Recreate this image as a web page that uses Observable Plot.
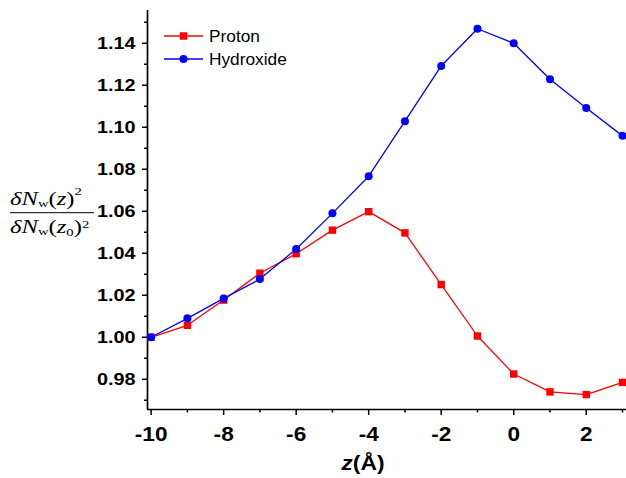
<!DOCTYPE html>
<html><head><meta charset="utf-8">
<script src="https://cdn.jsdelivr.net/npm/d3@7"></script>
<script src="https://cdn.jsdelivr.net/npm/@observablehq/plot@0.6"></script>
<style>body{margin:0;background:#fff} svg{display:block}</style>
</head><body><div id="chart"></div>
<script>
const z = [-10,-9,-8,-7,-6,-5,-4,-3,-2,-1,0,1,2,3];
const proton = [1.000,1.0057,1.0177,1.0305,1.0398,1.0510,1.0598,1.0497,1.0251,1.0006,0.9825,0.9740,0.9727,0.9785];
const hydroxide = [1.000,1.0090,1.0185,1.0277,1.0420,1.0590,1.0767,1.1029,1.1292,1.1469,1.1400,1.1229,1.1092,1.0959];
const seriesNames = ["Proton","Hydroxide"];
const seriesColors = ["#ff0000","#0000ff"];
const seriesSymbols = ["square","circle"];
const xMajor = [-10,-8,-6,-4,-2,0,2];
const xMinor = [-9,-7,-5,-3,-1,1,3];
const yMajor = [0.98,1.00,1.02,1.04,1.06,1.08,1.10,1.12,1.14];
const yMinor = [0.97,0.99,1.01,1.03,1.05,1.07,1.09,1.11,1.13,1.15];
const xDomain = [-10.1, 3.11];
const yDomain = [0.9656, 1.1556];

const data = [];
[proton, hydroxide].forEach((vals, s) => vals.forEach((v, i) => data.push({series: seriesNames[s], z: z[i], v})));

const colorOf = Object.fromEntries(seriesNames.map((n,i)=>[n, seriesColors[i]]));

const plot = Plot.plot({
  width: 626, height: 478,
  marginLeft: 147, marginRight: 0, marginTop: 10, marginBottom: 69,
  style: {background: "#fff", color: "#000", overflow: "visible"},
  x: {domain: xDomain},
  y: {domain: yDomain},
  marks: [
    Plot.axisY(yMajor, {tickSize: 5, tickPadding: 7, strokeWidth: 1.5, tickFormat: d => d.toFixed(2), fontSize: 16.5, fontWeight: "bold", fontFamily: "Liberation Sans, Arial, sans-serif", label: null}),
    Plot.axisY(yMinor, {tickSize: 3, strokeWidth: 1.5, tickFormat: () => "", label: null}),
    Plot.axisX(xMajor, {tickSize: 6, tickPadding: 11, strokeWidth: 1.5, tickFormat: d => String(d), fontSize: 20, fontWeight: "bold", fontFamily: "Liberation Sans, Arial, sans-serif", label: null}),
    Plot.axisX(xMinor, {tickSize: 3.5, strokeWidth: 1.5, tickFormat: () => "", label: null}),
    Plot.ruleX([xDomain[0]], {stroke: "#000", strokeWidth: 1.7}),
    Plot.ruleY([yDomain[0]], {stroke: "#000", strokeWidth: 1.7}),
    Plot.line(data, {x: "z", y: "v", z: "series", stroke: d => colorOf[d.series], strokeWidth: 1.3}),
    Plot.dot(data.filter(d => d.series === "Proton"), {x: "z", y: "v", symbol: "square", r: 4.2, fill: seriesColors[0], stroke: "none"}),
    Plot.dot(data.filter(d => d.series === "Hydroxide"), {x: "z", y: "v", symbol: "circle", r: 4, fill: seriesColors[1], stroke: "none"})
  ]
});
document.getElementById("chart").appendChild(plot);

const svg = d3.select(plot);
svg.selectAll('g[aria-label="y-axis tick label"] text').each(function(){
  if (!this.textContent) return;
  const L = this.getComputedTextLength();
  this.setAttribute("textLength", L * 1.2);
  this.setAttribute("lengthAdjust", "spacingAndGlyphs");
});
svg.selectAll('g[aria-label="x-axis tick label"] text').each(function(){
  if (!this.textContent) return;
  const L = this.getComputedTextLength();
  this.setAttribute("textLength", L * 1.13);
  this.setAttribute("lengthAdjust", "spacingAndGlyphs");
});

// x-axis title
const xt = svg.append("text").attr("x", 363).attr("y", 470).attr("text-anchor", "middle")
  .attr("font-family", "Liberation Sans, Arial, sans-serif").attr("font-size", 21).attr("font-weight", "bold");
xt.append("tspan").attr("font-style", "italic").text("z");
xt.append("tspan").text("(Å)");
const xl = xt.node().getComputedTextLength();
xt.attr("textLength", xl * 1.09).attr("lengthAdjust", "spacingAndGlyphs");

// y-axis title (fraction)
const fg = svg.append("g").attr("font-family", "Liberation Serif, Times New Roman, serif").attr("font-size", 18.5).attr("fill", "#000").attr("text-anchor", "start");
function frac(y, sub0, supDy) {
  const t = fg.append("text").attr("x", 0).attr("y", y).attr("text-anchor", "start");
  t.append("tspan").attr("font-style", "italic").text("δN");
  t.append("tspan").attr("font-size", 11).attr("dy", 2).text("w");
  t.append("tspan").attr("dy", -2).text("(");
  t.append("tspan").attr("font-style", "italic").text("z");
  if (sub0) {
    t.append("tspan").attr("font-size", 11).attr("dy", 3).text("0");
    t.append("tspan").attr("dy", -3).text(")");
  } else {
    t.append("tspan").text(")");
  }
  t.append("tspan").attr("font-size", 11).attr("dy", supDy).text("2");
  return t;
}
const num = frac(205, false, -10);
const den = frac(233, true, -5);
const nw = num.node().getBBox().width;
const sx = 72 / nw;
fg.attr("transform", `translate(10,0) scale(${sx},1)`);
svg.append("line").attr("x1", 10).attr("x2", 94).attr("y1", 212.7).attr("y2", 212.7).attr("stroke", "#000").attr("stroke-width", 1);

// legend
const legendY = [36, 59];
seriesNames.forEach((name, i) => {
  const g = svg.append("g");
  g.append("line").attr("x1", 164).attr("x2", 203).attr("y1", legendY[i]).attr("y2", legendY[i]).attr("stroke", seriesColors[i]).attr("stroke-width", 1.3);
  if (seriesSymbols[i] === "square") {
    g.append("rect").attr("x", 183.5 - 3.75).attr("y", legendY[i] - 3.75).attr("width", 7.5).attr("height", 7.5).attr("fill", seriesColors[i]);
  } else {
    g.append("circle").attr("cx", 183.5).attr("cy", legendY[i]).attr("r", 4).attr("fill", seriesColors[i]);
  }
  g.append("text").attr("x", 209).attr("y", legendY[i] + 6.3).attr("text-anchor", "start").attr("font-family", "Liberation Sans, Arial, sans-serif").attr("font-size", 17.3).text(name);
});
</script>
</body></html>
